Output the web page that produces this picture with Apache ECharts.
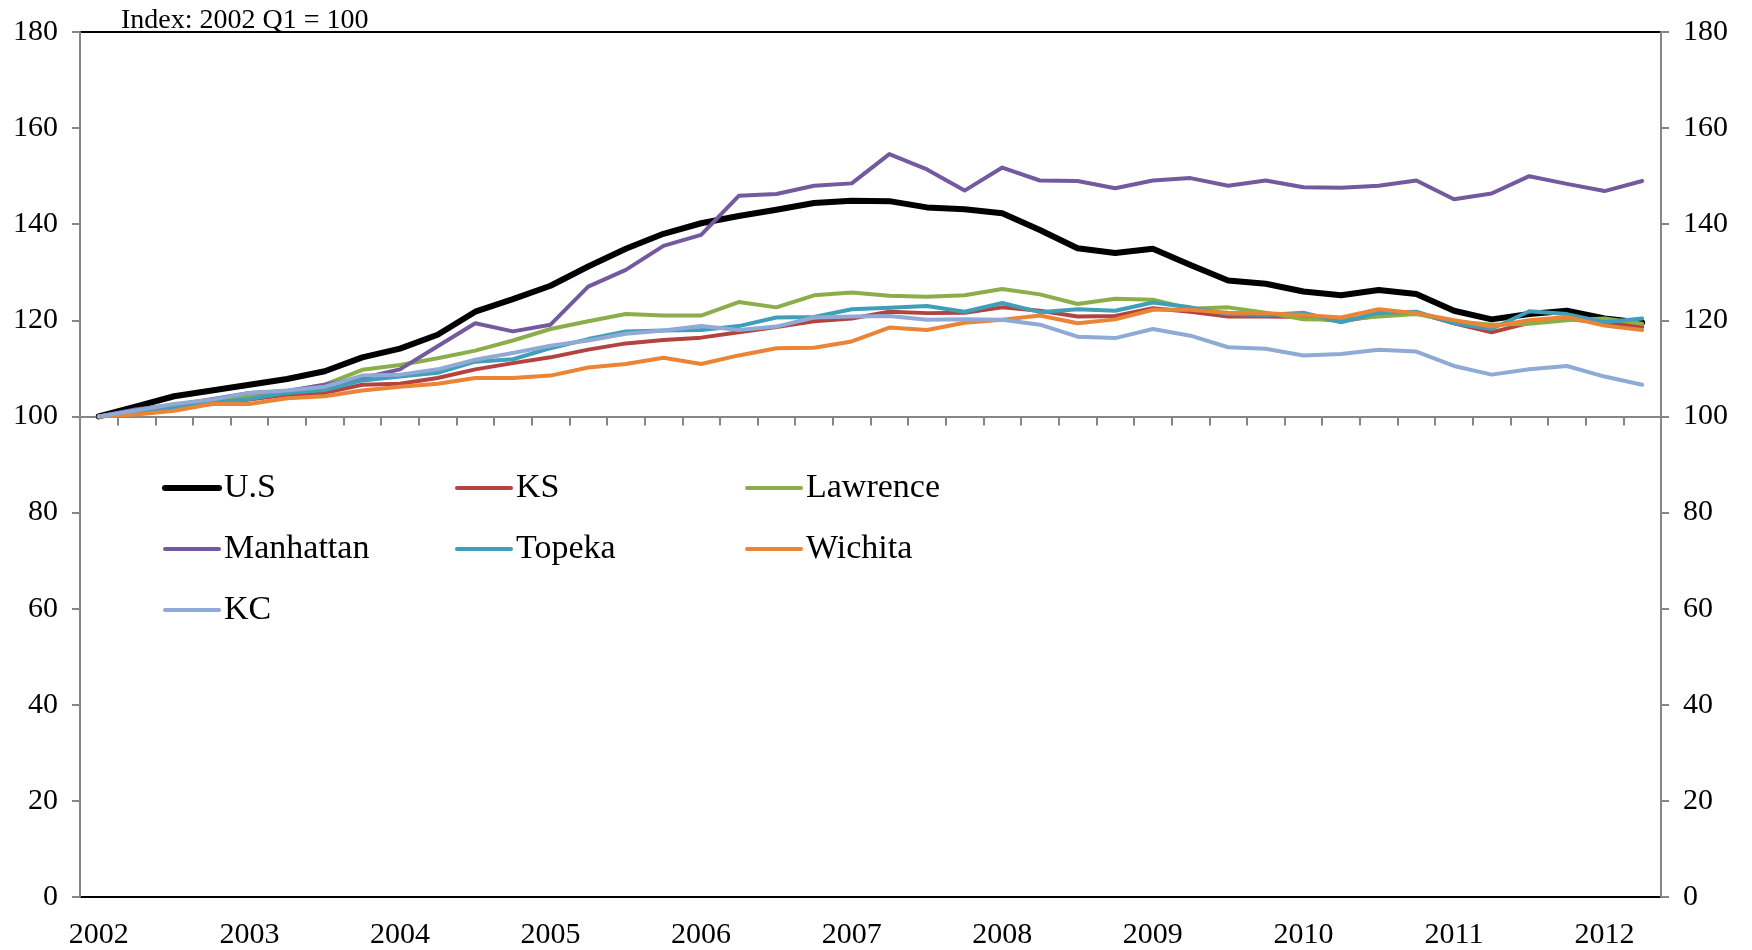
<!DOCTYPE html>
<html>
<head>
<meta charset="utf-8">
<script src="https://cdn.jsdelivr.net/npm/echarts@6/dist/echarts.min.js"></script>
<style>
  html, body { margin: 0; padding: 0; background: #fff; }
  #chart { width: 1752px; height: 950px; }
</style>
</head>
<body>
<div id="chart"></div>
<script>
// house price index, 2002 Q1 = 100, quarterly 2002 Q1 .. 2012 Q2
var yearLabels = ['2002', '2003', '2004', '2005', '2006', '2007', '2008', '2009', '2010', '2011', '2012'];
var quarterNames = ['Q1', 'Q2', 'Q3', 'Q4'];
var yTicks = [0, 20, 40, 60, 80, 100, 120, 140, 160, 180];

var usData = [100, 102.1, 104.2, 105.4, 106.6, 107.8, 109.4, 112.3, 114.1, 117.0, 121.8, 124.4, 127.2, 131.2, 134.9, 138.0, 140.2, 141.7, 143.0, 144.4, 144.9, 144.8, 143.5, 143.1, 142.3, 138.8, 135.0, 134.0, 134.9, 131.5, 128.3, 127.6, 126.0, 125.2, 126.3, 125.5, 122.0, 120.2, 121.3, 122.0, 120.4, 119.5];
var ksData = [100, 100.8, 101.8, 102.6, 103.5, 104.5, 104.9, 106.6, 106.8, 108.0, 109.8, 111.1, 112.3, 113.9, 115.2, 115.9, 116.4, 117.5, 118.6, 119.8, 120.4, 121.8, 121.5, 121.6, 122.7, 122.0, 120.8, 120.9, 122.5, 121.8, 120.8, 120.8, 120.7, 119.8, 121.0, 121.6, 119.4, 117.5, 119.5, 120.3, 119.5, 118.6];
var lawrenceData = [100, 101.0, 102.0, 103.1, 104.2, 105.2, 106.6, 109.7, 110.7, 112.1, 113.7, 115.8, 118.2, 119.8, 121.3, 121.0, 121.0, 123.8, 122.7, 125.2, 125.8, 125.1, 124.9, 125.2, 126.5, 125.4, 123.4, 124.5, 124.3, 122.4, 122.7, 121.6, 120.2, 120.1, 120.8, 121.3, 119.8, 119.1, 119.3, 120.0, 120.4, 119.3];
var manhattanData = [100, 101.5, 102.4, 103.6, 104.9, 105.3, 106.6, 108.0, 109.8, 114.6, 119.4, 117.7, 119.1, 127.0, 130.5, 135.5, 137.8, 145.9, 146.3, 148.0, 148.5, 154.6, 151.4, 147.0, 151.8, 149.1, 149.0, 147.5, 149.1, 149.6, 148.0, 149.1, 147.7, 147.6, 148.0, 149.1, 145.2, 146.4, 150.0, 148.4, 146.9, 149.0];
var topekaData = [100, 101.0, 102.0, 102.9, 103.6, 104.9, 105.5, 107.5, 108.3, 109.1, 111.4, 111.9, 114.2, 116.1, 117.7, 117.9, 118.0, 118.8, 120.6, 120.7, 122.3, 122.6, 123.0, 121.8, 123.6, 121.7, 122.3, 122.0, 123.7, 122.7, 121.3, 121.1, 121.6, 119.6, 121.6, 121.8, 119.4, 118.2, 121.9, 121.3, 119.6, 120.4];
var wichitaData = [100, 100.4, 101.2, 102.6, 102.6, 103.8, 104.2, 105.4, 106.2, 106.8, 108.0, 108.0, 108.5, 110.2, 110.9, 112.2, 110.9, 112.7, 114.2, 114.3, 115.6, 118.5, 118.0, 119.5, 120.1, 121.0, 119.4, 120.2, 122.2, 122.2, 121.6, 121.5, 121.1, 120.6, 122.3, 121.5, 120.0, 118.7, 120.0, 120.7, 118.9, 118.0];
var kcData = [100, 101.3, 102.6, 103.5, 104.9, 105.4, 106.2, 108.5, 108.7, 109.8, 111.8, 113.2, 114.7, 115.8, 117.2, 117.9, 118.8, 118.0, 118.7, 120.6, 120.8, 120.9, 120.1, 120.2, 120.1, 119.1, 116.6, 116.3, 118.2, 116.8, 114.4, 114.1, 112.7, 113.0, 113.9, 113.5, 110.5, 108.7, 109.8, 110.5, 108.3, 106.6];

var categories = [];
for (var y = 0; y < yearLabels.length; y++) {
    for (var q = 0; q < quarterNames.length; q++) {
        if (categories.length < usData.length) categories.push(yearLabels[y] + ' ' + quarterNames[q]);
    }
}

var FONT = '"Liberation Serif", "DejaVu Serif", serif';
var GREY = '#868686';
var gridTop = 32, gridBottom = 53, chartH = 950;
var plotH = chartH - gridTop - gridBottom;
var yMin = yTicks[0], yMax = yTicks[yTicks.length - 1];
var crossAt = 100; // category axis crosses the value axis here

function line(name, data, color, width) {
    return {
        name: name,
        type: 'line',
        data: data,
        symbol: 'none',
        smooth: false,
        lineStyle: { color: color, width: width, cap: 'round', join: 'round' },
        itemStyle: { color: color },
        emphasis: { disabled: true }
    };
}

function valueAxis(pos) {
    return {
        type: 'value',
        position: pos,
        min: yMin,
        max: yMax,
        interval: 20,
        splitLine: { show: false },
        axisLine: { show: true, onZero: false, lineStyle: { color: GREY, width: 2 } },
        axisTick: { show: true, length: 8, lineStyle: { color: GREY, width: 2 } },
        axisLabel: { margin: 22, color: '#000', fontSize: 30, fontFamily: FONT }
    };
}

function legendCol(left, names) {
    return {
        orient: 'vertical',
        left: left,
        top: 468,
        padding: 0,
        itemGap: 21,
        itemWidth: 54,
        itemHeight: 14,
        data: names,
        itemStyle: { opacity: 0 },
        lineStyle: { width: 'inherit', cap: 'round' },
        textStyle: { color: '#000', fontSize: 34, fontFamily: FONT, lineHeight: 40 },
        selectedMode: false
    };
}

var chart = echarts.init(document.getElementById('chart'), null, { renderer: 'canvas' });
chart.setOption({
    backgroundColor: '#fff',
    animation: false,
    title: {
        text: 'Index: 2002 Q1 = 100',
        left: 121,
        top: 7,
        padding: 0,
        textStyle: { color: '#000', fontSize: 28, fontWeight: 'normal', fontFamily: FONT }
    },
    legend: [
        legendCol(162, ['U.S', 'Manhattan', 'KC']),
        legendCol(455, ['KS', 'Topeka']),
        legendCol(745, ['Lawrence', 'Wichita'])
    ],
    grid: {
        left: 80, right: 91, top: gridTop, bottom: gridBottom,
        show: true, borderColor: '#000', borderWidth: 2, backgroundColor: 'transparent'
    },
    xAxis: [
        {
            type: 'category',
            position: 'bottom',
            data: categories,
            boundaryGap: true,
            axisLine: { show: false, onZero: false },
            axisTick: { show: false },
            axisLabel: {
                interval: 3,
                margin: 23,
                color: '#000',
                fontSize: 30,
                fontFamily: FONT,
                formatter: function (v) { return v.split(' ')[0]; }
            },
            splitLine: { show: false }
        },
        {
            type: 'category',
            position: 'top',
            offset: -(plotH * (yMax - crossAt) / (yMax - yMin)),
            data: categories,
            boundaryGap: true,
            axisLine: { show: true, onZero: false, lineStyle: { color: GREY, width: 2 } },
            axisTick: { show: true, inside: true, interval: 0, length: 9, lineStyle: { color: GREY, width: 2 } },
            axisLabel: { show: false },
            splitLine: { show: false }
        }
    ],
    yAxis: [valueAxis('left'), valueAxis('right')],
    series: [
        line('U.S', usData, '#000000', 6),
        line('KS', ksData, '#B4423F', 4),
        line('Lawrence', lawrenceData, '#8BAE4B', 4),
        line('Manhattan', manhattanData, '#735A9E', 4),
        line('Topeka', topekaData, '#3F9FB8', 4),
        line('Wichita', wichitaData, '#EA8436', 4),
        line('KC', kcData, '#8FAAD4', 4)
    ]
});
</script>
</body>
</html>
